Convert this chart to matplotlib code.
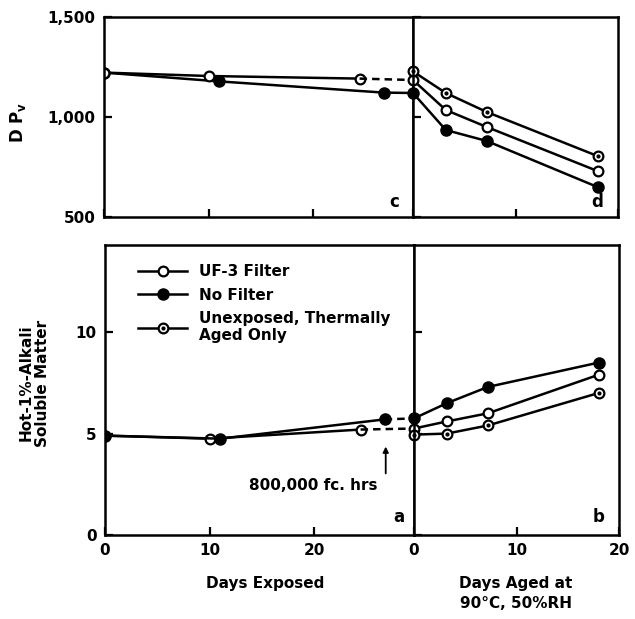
import matplotlib
matplotlib.use("Agg")
import matplotlib.pyplot as plt

# ---- data ----
# exposure phase (left panels), days exposed
exp_days_uf = [0, 10, 24.4]
exp_days_nf = [0, 11, 26.7]
dp_uf_exp = [1222, 1205, 1192]
dp_nf_exp = [1222, 1178, 1122]
alk_uf_exp = [4.9, 4.75, 5.2]
alk_nf_exp = [4.9, 4.75, 5.7]

# thermal ageing phase (right panels), days aged at 90C 50%RH
aged_days = [0, 3.2, 7.2, 18]
dp_uf_aged = [1185, 1035, 950, 730]
dp_nf_aged = [1120, 935, 880, 650]
dp_un_aged = [1228, 1120, 1025, 805]
alk_uf_aged = [5.25, 5.6, 6.0, 7.9]
alk_nf_aged = [5.75, 6.5, 7.3, 8.5]
alk_un_aged = [4.95, 5.0, 5.4, 7.0]

EXP_MAX = 29.5
AGE_MAX = 20

plt.rcParams['font.family'] = 'DejaVu Sans'
plt.rcParams['font.size'] = 11
plt.rcParams['font.weight'] = 'bold'

fig = plt.figure(figsize=(6.35, 6.19), dpi=100)
W, H = 635.0, 619.0


def add_ax(x0, x1, y0, y1):
    return fig.add_axes([x0 / W, 1 - y1 / H, (x1 - x0) / W, (y1 - y0) / H])


ax_c = add_ax(104, 413, 17, 217)
ax_d = add_ax(413, 618, 17, 217)
ax_a = add_ax(105, 414, 245, 535)
ax_b = add_ax(414, 619, 245, 535)

lw = 1.8
ms = 7
open_kw = dict(marker='o', mfc='white', mec='black', mew=1.6, ms=ms, color='black', lw=lw)
fill_kw = dict(marker='o', mfc='black', mec='black', ms=ms + 1, color='black', lw=lw)
dot_kw = dict(marker='o', ms=2, mfc='black', mec='black', ls='none')


def unexposed(ax, x, y):
    l1, = ax.plot(x, y, **open_kw)
    l2, = ax.plot(x, y, **dot_kw)
    return (l1, l2)


# --- top left (c) ---
ax_c.plot(exp_days_nf, dp_nf_exp, **fill_kw)
ax_c.plot([exp_days_nf[-1], EXP_MAX], [dp_nf_exp[-1], dp_nf_aged[0]], color='black', lw=lw)
ax_c.plot(exp_days_uf, dp_uf_exp, **open_kw)
ax_c.plot([exp_days_uf[-1], EXP_MAX], [dp_uf_exp[-1], dp_uf_aged[0]], color='black', lw=lw, ls=(0, (3, 2)))

# --- top right (d) ---
ax_d.plot(aged_days, dp_nf_aged, clip_on=False, **fill_kw)
ax_d.plot(aged_days, dp_uf_aged, clip_on=False, **open_kw)
l_un = unexposed(ax_d, aged_days, dp_un_aged)
for l in l_un:
    l.set_clip_on(False)

# --- bottom left (a) ---
h_uf, = ax_a.plot(exp_days_uf, alk_uf_exp, **open_kw)
h_nf, = ax_a.plot(exp_days_nf, alk_nf_exp, **fill_kw)
ax_a.plot([exp_days_uf[-1], EXP_MAX], [alk_uf_exp[-1], alk_uf_aged[0]], color='black', lw=lw, ls=(0, (3, 2)))
ax_a.plot([exp_days_nf[-1], EXP_MAX], [alk_nf_exp[-1], alk_nf_aged[0]], color='black', lw=lw, ls=(0, (3, 2)))

# --- bottom right (b) ---
ax_b.plot(aged_days, alk_nf_aged, clip_on=False, **fill_kw)
ax_b.plot(aged_days, alk_uf_aged, clip_on=False, **open_kw)
h_un = unexposed(ax_b, aged_days, alk_un_aged)
for l in h_un:
    l.set_clip_on(False)

# axes styling
for ax in (ax_c, ax_d, ax_a, ax_b):
    for s in ax.spines.values():
        s.set_linewidth(1.8)
    ax.tick_params(direction='in', length=6, width=1.6, labelsize=11, pad=6)

for ax in (ax_c, ax_a):
    ax.set_xlim(0, EXP_MAX)
    ax.set_xticks([0, 10, 20])
for ax in (ax_d, ax_b):
    ax.set_xlim(0, AGE_MAX)
    ax.set_xticks([0, 10, 20])

for ax in (ax_c, ax_d):
    ax.set_ylim(500, 1500)
    ax.set_yticks([500, 1000, 1500])
    ax.tick_params(labelbottom=False)
ax_c.set_yticklabels(['500', '1,000', '1,500'])
ax_d.tick_params(labelleft=False)

for ax in (ax_a, ax_b):
    ax.set_ylim(0, 14.3)
    ax.set_yticks([0, 5, 10])
ax_b.tick_params(labelleft=False)
ax_a.set_xticklabels(['0', '10', '20'])
ax_b.set_xticklabels(['0', '10', '20'])

# panel letters
ax_c.text(0.94, 0.03, 'c', transform=ax_c.transAxes, ha='center', va='bottom', fontsize=12)
ax_d.text(0.90, 0.03, 'd', transform=ax_d.transAxes, ha='center', va='bottom', fontsize=12)
ax_a.text(0.95, 0.03, 'a', transform=ax_a.transAxes, ha='center', va='bottom', fontsize=12)
ax_b.text(0.90, 0.03, 'b', transform=ax_b.transAxes, ha='center', va='bottom', fontsize=12)

# axis labels
fig.text(18 / W, 1 - 122 / H, r'D P$_\mathbf{v}$', rotation=90, ha='center', va='center', fontsize=12)
fig.text(34 / W, 1 - 383 / H, 'Hot-1%-Alkali\nSoluble Matter', rotation=90,
         ha='center', va='center', fontsize=11, linespacing=1.1)
fig.text(265 / W, 1 - 576 / H, 'Days Exposed', ha='center', va='top', fontsize=11)
fig.text(516 / W, 1 - 576 / H, 'Days Aged at\n90\u00b0C, 50%RH', ha='center', va='top',
         fontsize=11, linespacing=1.45)

# annotation
ax_a.text(26.0, 2.45, '800,000 fc. hrs', ha='right', va='center', fontsize=11)
ax_a.annotate('', xy=(26.8, 4.5), xytext=(26.8, 2.9),
              arrowprops=dict(arrowstyle='-|>', color='black', lw=1.3, mutation_scale=8))

# legend
fig.legend([h_uf, h_nf, h_un],
           ['UF-3 Filter', 'No Filter', 'Unexposed, Thermally\nAged Only'],
           loc='upper left', bbox_to_anchor=(132 / W, 1 - 258 / H), frameon=False,
           handlelength=3.2, fontsize=11, labelspacing=0.55, borderaxespad=0)

fig.savefig('out.png', dpi=100)
